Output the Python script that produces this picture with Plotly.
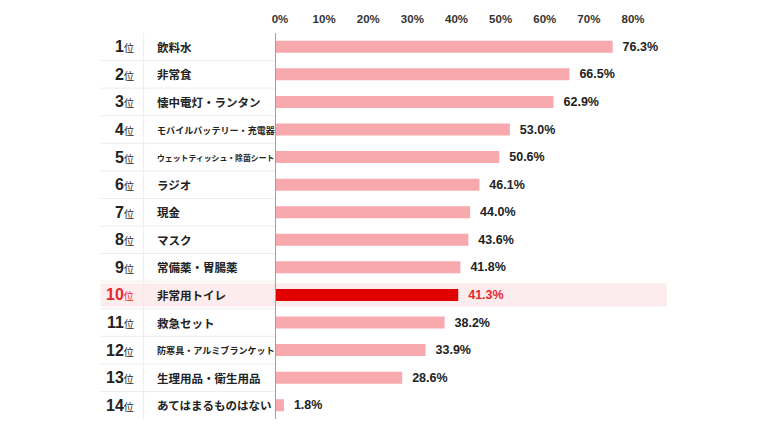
## Disaster-preparedness items ranking chart
import plotly.graph_objects as go

## Data
ranks = [1, 2, 3, 4, 5, 6, 7, 8, 9, 10, 11, 12, 13, 14]
items = ["飲料水", "非常食", "懐中電灯・ランタン", "モバイルバッテリー・充電器",
         "ウェットティッシュ・除菌シート", "ラジオ", "現金", "マスク",
         "常備薬・胃腸薬", "非常用トイレ", "救急セット", "防寒具・アルミブランケット",
         "生理用品・衛生用品", "あてはまるものはない"]
values = [76.3, 66.5, 62.9, 53.0, 50.6, 46.1, 44.0, 43.6, 41.8, 41.3, 38.2, 33.9, 28.6, 1.8]
highlight = 10
tick_vals = [0, 10, 20, 30, 40, 50, 60, 70, 80]

FONT = "Noto Sans CJK JP"
NUMFONT = "Liberation Sans"
PINK = "#f8a9ae"
RED = "#e00000"

colors = [RED if r == highlight else PINK for r in ranks]
txt_colors = ["#e8262b" if r == highlight else "#222222" for r in ranks]

fig = go.Figure(go.Bar(
    x=values, y=items, orientation="h",
    marker=dict(color=colors, line=dict(width=0)),
    text=["\u00a0\u00a0{:.1f}%".format(v) for v in values],
    textposition="outside", constraintext="none",
    textfont=dict(family=NUMFONT, size=12.5, color=txt_colors, weight="bold"),
    cliponaxis=False,
))

# left hand labels (rank + item name)
for i, (r, name) in enumerate(zip(ranks, items)):
    c = "#e8262b" if r == highlight else "#222222"
    fig.add_annotation(
        x=0, xref="paper", y=name, yref="y", xanchor="right", xshift=-140,
        text="<b>{}</b><span style='font-size:10px;font-family:Noto Sans CJK JP'>位</span>".format(r),
        showarrow=False, font=dict(family=NUMFONT, size=16, color=c))
    fig.add_annotation(
        x=0, xref="paper", y=name, yref="y", xanchor="left", xshift=-121,
        text="<b>{}</b>".format(name),
        showarrow=False,
        font=dict(family=FONT, size=min(11.5, 118 / len(name)), color="#222222"))

# highlighted row background
hi = ranks.index(highlight)
fig.add_shape(type="rect", xref="paper", yref="y", layer="below",
              x0=-0.497, x1=1.107, y0=hi - 0.42, y1=hi + 0.42,
              fillcolor="#fdeced", line=dict(width=0))

# row separators on the left table
for i in range(len(items) - 1):
    fig.add_shape(type="line", xref="paper", yref="y", layer="below",
                  x0=-0.497, x1=0, y0=i + 0.5, y1=i + 0.5,
                  line=dict(color="#ececec", width=1))
fig.add_shape(type="line", xref="paper", yref="paper", layer="below",
              x0=-0.375, x1=-0.375, y0=0, y1=1,
              line=dict(color="#ececec", width=1))

# page body adds an 8px offset, so the figure is a bit smaller than the window
fig.update_layout(
    width=762, height=425,
    margin=dict(l=268, r=141, t=25, b=14),
    paper_bgcolor="white", plot_bgcolor="white",
    showlegend=False, bargap=0.565,
    font=dict(family=FONT),
    xaxis=dict(range=[0, 80], side="top", tickvals=tick_vals,
               ticktext=["{}%".format(t) for t in tick_vals],
               showgrid=False, zeroline=False, ticks="", automargin=False,
               ticklabelshift=4, ticklabelstandoff=7,
               tickfont=dict(family=NUMFONT, size=11.5, color="#333333", weight="bold")),
    yaxis=dict(autorange="reversed", showticklabels=False, showgrid=False,
               automargin=False,
               showline=True, linecolor="#a0a0a0", linewidth=1, ticks=""),
)

fig.write_html("out.html")
